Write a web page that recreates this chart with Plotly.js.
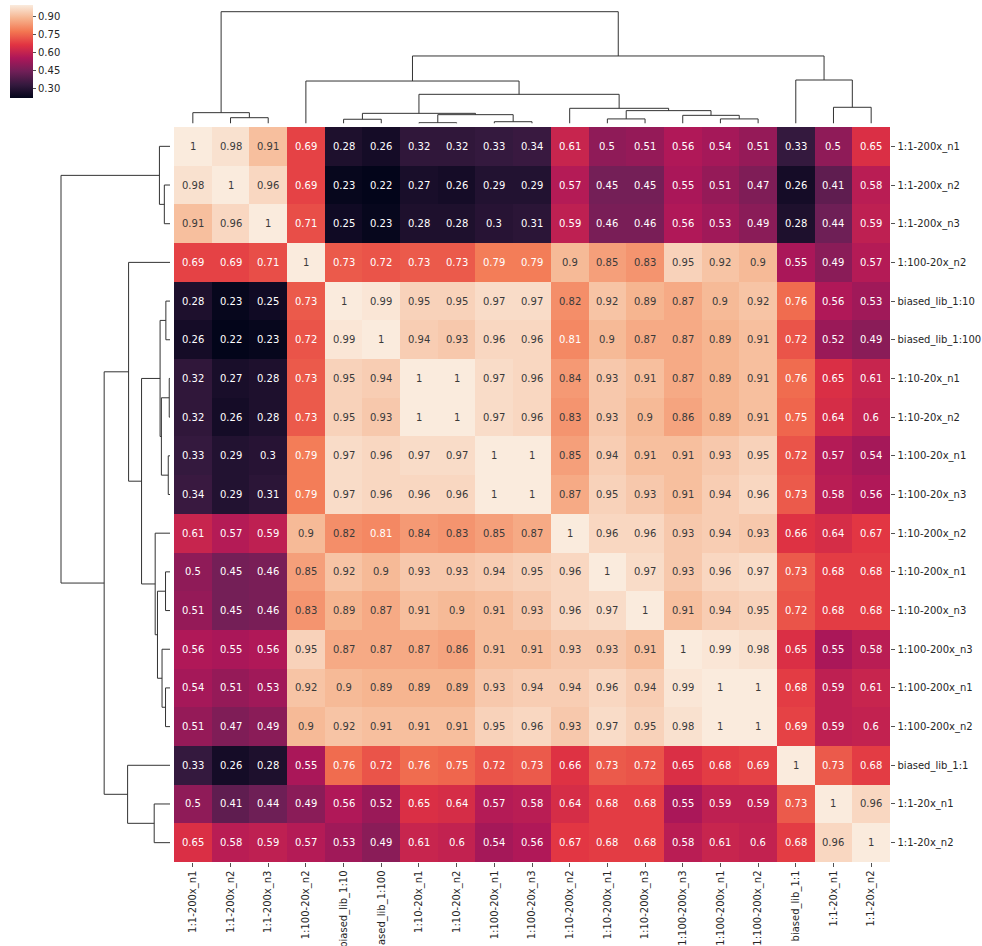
<!DOCTYPE html>
<html>
<head>
<meta charset="utf-8">
<script src="https://cdn.plot.ly/plotly-3.0.1.min.js"></script>
<style>html,body{margin:0;padding:0;background:#fff;}#chart{width:982px;height:946px;}</style>
</head>
<body>
<div id="chart"></div>
<script>
// Leaf order (same for rows and columns)
const labels = [
  "1:1-200x_n1", "1:1-200x_n2", "1:1-200x_n3", "1:100-20x_n2",
  "biased_lib_1:10", "biased_lib_1:100", "1:10-20x_n1", "1:10-20x_n2",
  "1:100-20x_n1", "1:100-20x_n3", "1:10-200x_n2", "1:10-200x_n1",
  "1:10-200x_n3", "1:100-200x_n3", "1:100-200x_n1", "1:100-200x_n2",
  "biased_lib_1:1", "1:1-20x_n1", "1:1-20x_n2"
];

// Correlation matrix rows (in leaf order)
const r00 = [1, 0.98, 0.91, 0.69, 0.28, 0.26, 0.32, 0.32, 0.33, 0.34, 0.61, 0.5, 0.51, 0.56, 0.54, 0.51, 0.33, 0.5, 0.65];
const r01 = [0.98, 1, 0.96, 0.69, 0.23, 0.22, 0.27, 0.26, 0.29, 0.29, 0.57, 0.45, 0.45, 0.55, 0.51, 0.47, 0.26, 0.41, 0.58];
const r02 = [0.91, 0.96, 1, 0.71, 0.25, 0.23, 0.28, 0.28, 0.3, 0.31, 0.59, 0.46, 0.46, 0.56, 0.53, 0.49, 0.28, 0.44, 0.59];
const r03 = [0.69, 0.69, 0.71, 1, 0.73, 0.72, 0.73, 0.73, 0.79, 0.79, 0.9, 0.85, 0.83, 0.95, 0.92, 0.9, 0.55, 0.49, 0.57];
const r04 = [0.28, 0.23, 0.25, 0.73, 1, 0.99, 0.95, 0.95, 0.97, 0.97, 0.82, 0.92, 0.89, 0.87, 0.9, 0.92, 0.76, 0.56, 0.53];
const r05 = [0.26, 0.22, 0.23, 0.72, 0.99, 1, 0.94, 0.93, 0.96, 0.96, 0.81, 0.9, 0.87, 0.87, 0.89, 0.91, 0.72, 0.52, 0.49];
const r06 = [0.32, 0.27, 0.28, 0.73, 0.95, 0.94, 1, 1, 0.97, 0.96, 0.84, 0.93, 0.91, 0.87, 0.89, 0.91, 0.76, 0.65, 0.61];
const r07 = [0.32, 0.26, 0.28, 0.73, 0.95, 0.93, 1, 1, 0.97, 0.96, 0.83, 0.93, 0.9, 0.86, 0.89, 0.91, 0.75, 0.64, 0.6];
const r08 = [0.33, 0.29, 0.3, 0.79, 0.97, 0.96, 0.97, 0.97, 1, 1, 0.85, 0.94, 0.91, 0.91, 0.93, 0.95, 0.72, 0.57, 0.54];
const r09 = [0.34, 0.29, 0.31, 0.79, 0.97, 0.96, 0.96, 0.96, 1, 1, 0.87, 0.95, 0.93, 0.91, 0.94, 0.96, 0.73, 0.58, 0.56];
const r10 = [0.61, 0.57, 0.59, 0.9, 0.82, 0.81, 0.84, 0.83, 0.85, 0.87, 1, 0.96, 0.96, 0.93, 0.94, 0.93, 0.66, 0.64, 0.67];
const r11 = [0.5, 0.45, 0.46, 0.85, 0.92, 0.9, 0.93, 0.93, 0.94, 0.95, 0.96, 1, 0.97, 0.93, 0.96, 0.97, 0.73, 0.68, 0.68];
const r12 = [0.51, 0.45, 0.46, 0.83, 0.89, 0.87, 0.91, 0.9, 0.91, 0.93, 0.96, 0.97, 1, 0.91, 0.94, 0.95, 0.72, 0.68, 0.68];
const r13 = [0.56, 0.55, 0.56, 0.95, 0.87, 0.87, 0.87, 0.86, 0.91, 0.91, 0.93, 0.93, 0.91, 1, 0.99, 0.98, 0.65, 0.55, 0.58];
const r14 = [0.54, 0.51, 0.53, 0.92, 0.9, 0.89, 0.89, 0.89, 0.93, 0.94, 0.94, 0.96, 0.94, 0.99, 1, 1, 0.68, 0.59, 0.61];
const r15 = [0.51, 0.47, 0.49, 0.9, 0.92, 0.91, 0.91, 0.91, 0.95, 0.96, 0.93, 0.97, 0.95, 0.98, 1, 1, 0.69, 0.59, 0.6];
const r16 = [0.33, 0.26, 0.28, 0.55, 0.76, 0.72, 0.76, 0.75, 0.72, 0.73, 0.66, 0.73, 0.72, 0.65, 0.68, 0.69, 1, 0.73, 0.68];
const r17 = [0.5, 0.41, 0.44, 0.49, 0.56, 0.52, 0.65, 0.64, 0.57, 0.58, 0.64, 0.68, 0.68, 0.55, 0.59, 0.59, 0.73, 1, 0.96];
const r18 = [0.65, 0.58, 0.59, 0.57, 0.53, 0.49, 0.61, 0.6, 0.54, 0.56, 0.67, 0.68, 0.68, 0.58, 0.61, 0.6, 0.68, 0.96, 1];
const matrix = [r00, r01, r02, r03, r04, r05, r06, r07, r08, r09, r10, r11, r12, r13, r14, r15, r16, r17, r18];

// Linkage (scipy style: leaves 0..18, merge k gets id 19+k), relative heights
const linkLeft   = [6, 8, 4, 11, 14, 1, 13, 19, 21, 0, 22, 10, 17, 27, 3, 16, 33, 28];
const linkRight  = [7, 9, 5, 12, 15, 2, 23, 20, 26, 24, 25, 29, 18, 30, 32, 31, 34, 35];
const linkHeight = [0.007, 0.016, 0.038, 0.041, 0.041, 0.052, 0.073, 0.079, 0.091, 0.097, 0.115, 0.136, 0.145, 0.261, 0.380, 0.389, 0.604, 1.0];

// Colorbar ticks
const cbTicks = [0.30, 0.45, 0.60, 0.75, 0.90];

// seaborn "rocket" colormap
const rocket = [[0, '#03051a'], [0.143, '#35193e'], [0.286, '#701f57'], [0.429, '#ad1759'],
                [0.571, '#e13342'], [0.714, '#f37651'], [0.857, '#f6b48f'], [1, '#faebdd']];

const n = labels.length;
const idx = labels.map((_, i) => i);
const flat = matrix.flat();
const zmin = Math.min(...flat), zmax = Math.max(...flat);

const font = 'DejaVu Sans, sans-serif';
const txt = '#262626';

const traces = [{
  type: 'heatmap', z: matrix, x: idx, y: idx,
  colorscale: rocket, zmin: zmin, zmax: zmax,
  xaxis: 'x', yaxis: 'y', hoverinfo: 'skip',
  colorbar: {
    x: 10 / 982, xanchor: 'left', y: 1 - 5 / 946, yanchor: 'top',
    len: 93, lenmode: 'pixels', thickness: 23, thicknessmode: 'pixels',
    xpad: 0, ypad: 0, outlinewidth: 0,
    tickvals: cbTicks, ticktext: cbTicks.map(v => v.toFixed(2)),
    ticks: 'outside', ticklen: 3.5, tickwidth: 0.8, tickcolor: txt,
    ticklabelstandoff: 2,
    tickfont: {family: font, size: 10, color: txt}
  }
}];

// Dendrogram lines computed from linkage
const pos = idx.slice();
const hgt = idx.map(() => 0);
const segA = [], segB = []; // position-coordinate, height-coordinate
for (let k = 0; k < linkLeft.length; k++) {
  const a = linkLeft[k], b = linkRight[k], h = linkHeight[k];
  segA.push(pos[a], pos[a], pos[b], pos[b], null);
  segB.push(hgt[a], h, h, hgt[b], null);
  pos.push((pos[a] + pos[b]) / 2);
  hgt.push(h);
}
const lineStyle = {color: '#333333', width: 1};
traces.push({type: 'scatter', mode: 'lines', x: segA, y: segB, xaxis: 'x2', yaxis: 'y2',
             line: lineStyle, hoverinfo: 'skip', showlegend: false});
traces.push({type: 'scatter', mode: 'lines', x: segB, y: segA, xaxis: 'x3', yaxis: 'y3',
             line: lineStyle, hoverinfo: 'skip', showlegend: false});

const annotations = [];
for (let i = 0; i < n; i++) {
  for (let j = 0; j < n; j++) {
    const v = matrix[i][j];
    annotations.push({
      x: j, y: i, xref: 'x', yref: 'y', text: String(v), showarrow: false,
      font: {family: font, size: 10, color: v >= 0.815 ? '#3a3a3a' : '#ffffff'}
    });
  }
}

const hx = [174 / 982, 890 / 982];
const hy = [1 - 862 / 946, 1 - 127 / 946];
const hmax = Math.max(...linkHeight) * 1.05;
const hidden = {showgrid: false, zeroline: false, showline: false, showticklabels: false, ticks: '', fixedrange: true};

const layout = {
  width: 982, height: 946,
  margin: {l: 0, r: 0, t: 0, b: 0},
  paper_bgcolor: '#ffffff', plot_bgcolor: '#ffffff',
  font: {family: font, size: 10, color: txt},
  showlegend: false,
  xaxis: {domain: hx, range: [-0.5, n - 0.5], anchor: 'y',
          tickvals: idx, ticktext: labels, tickangle: -90,
          ticks: 'outside', ticklen: 3.5, tickwidth: 0.8, tickcolor: txt,
          tickfont: {family: font, size: 10, color: txt},
          showgrid: false, zeroline: false, showline: false, fixedrange: true},
  yaxis: {domain: hy, range: [n - 0.5, -0.5], anchor: 'x', side: 'right',
          tickvals: idx, ticktext: labels,
          ticks: 'outside', ticklen: 3.5, tickwidth: 0.8, tickcolor: txt,
          ticklabelstandoff: 1,
          tickfont: {family: font, size: 10, color: txt},
          showgrid: false, zeroline: false, showline: false, fixedrange: true},
  xaxis2: Object.assign({domain: hx, range: [-0.5, n - 0.5], anchor: 'y2'}, hidden),
  yaxis2: Object.assign({domain: [1 - 123.5 / 946, 1 - (123.5 - 111.8 * 1.05) / 946], range: [0, hmax], anchor: 'x2'}, hidden),
  xaxis3: Object.assign({domain: [(170 - 109 * 1.05) / 982, 170 / 982], range: [hmax, 0], anchor: 'y3'}, hidden),
  yaxis3: Object.assign({domain: hy, range: [n - 0.5, -0.5], anchor: 'x3'}, hidden),
  annotations: annotations
};

Plotly.newPlot('chart', traces, layout, {displayModeBar: false, staticPlot: true});
</script>
</body>
</html>
